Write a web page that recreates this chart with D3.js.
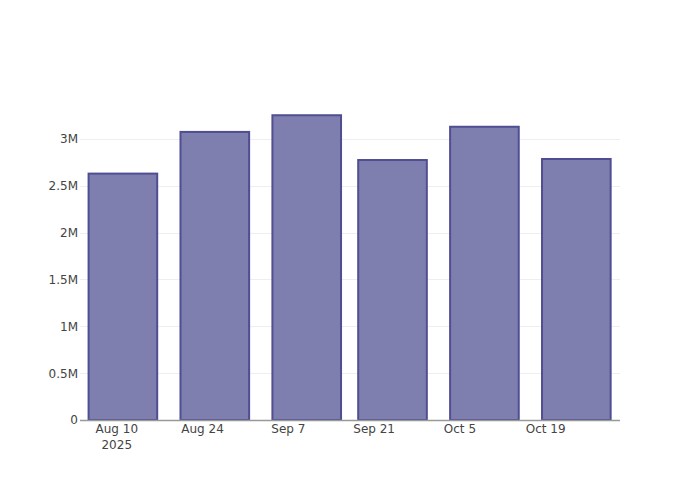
<!DOCTYPE html>
<html><head><meta charset="utf-8">
<script src="https://cdn.jsdelivr.net/npm/d3@7"></script>
<style>body{margin:0;background:#fff}svg{font-family:"DejaVu Sans",verdana,arial,sans-serif}</style>
</head><body><svg id="c" width="700" height="500"></svg>
<script>
const dates = ["2025-08-11","2025-08-26","2025-09-10","2025-09-24","2025-10-09","2025-10-24"];
const values = [2630000, 3075000, 3253000, 2775000, 3130000, 2786000];
const xTicks = ["2025-08-10","2025-08-24","2025-09-07","2025-09-21","2025-10-05","2025-10-19"];
const yTicks = [0, 500000, 1000000, 1500000, 2000000, 2500000, 3000000];
const yTickLabels = ["0","0.5M","1M","1.5M","2M","2.5M","3M"];

const parse = d3.utcParse("%Y-%m-%d");
const m = {l:80, r:80, t:100, b:80}, W = 700, H = 500;
const svg = d3.select("#c");
const x = d3.scaleUtc().domain([Date.UTC(2025,7,4), Date.UTC(2025,9,31,3)]).range([m.l, W-m.r]);
const y = d3.scaleLinear().domain([0, d3.max(values)*1.05]).range([H-m.b, m.t]);
const dayPx = x(Date.UTC(2025,7,2)) - x(Date.UTC(2025,7,1));
const bw = dayPx*14*0.8;

// grid
svg.append("g").selectAll("line").data(yTicks.slice(1)).join("line")
  .attr("x1", m.l).attr("x2", W-m.r).attr("y1", d=>Math.round(y(d))+0.5).attr("y2", d=>Math.round(y(d))+0.5)
  .attr("stroke","#eee").attr("stroke-width",1);

// bars
svg.append("g").selectAll("rect").data(values).join("rect")
  .attr("x", (d,i)=>x(parse(dates[i])) - bw/2)
  .attr("width", bw)
  .attr("y", d=>y(d))
  .attr("height", d=>y(0)-y(d))
  .attr("fill","#7f7faf")
  .attr("stroke","#4f4e92")
  .attr("stroke-width",2);

// x axis line
svg.append("line").attr("x1",m.l).attr("x2",W-m.r).attr("y1",y(0)+0.5).attr("y2",y(0)+0.5)
  .attr("stroke","#999").attr("stroke-width",1.5);

// y labels
const yAxis = d3.axisLeft(y).tickValues(yTicks).tickFormat((d,i)=>yTickLabels[i]).tickSize(0).tickPadding(2);
const ga = svg.append("g").attr("transform",`translate(${m.l},0)`).call(yAxis);
ga.select(".domain").remove();
ga.selectAll("text").attr("fill","#444").style("font-size","12px").style("font-family",'"DejaVu Sans",verdana,arial,sans-serif');

// x labels
const fmt = d3.utcFormat("%b %-d");
const gx = svg.append("g");
xTicks.forEach((t,i)=>{
  const d = parse(t);
  const tx = gx.append("text").attr("x", x(d)).attr("y", 433).attr("text-anchor","middle")
    .attr("fill","#444").style("font-size","12px");
  tx.append("tspan").attr("x", x(d)).text(fmt(d));
  if(i===0) tx.append("tspan").attr("x", x(d)).attr("dy", 16).text(d3.utcFormat("%Y")(d));
});
</script></body></html>
